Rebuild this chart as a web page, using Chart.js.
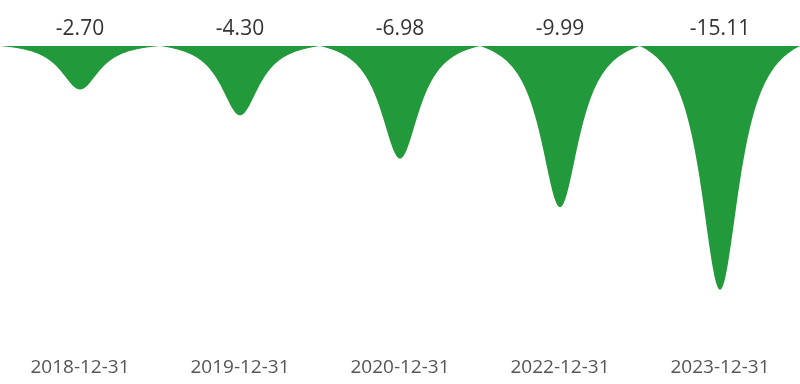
<!DOCTYPE html>
<html>
<head>
<meta charset="utf-8">
<script src="https://cdn.jsdelivr.net/npm/chart.js@4/dist/chart.umd.min.js"></script>
<style>
  html, body { margin:0; padding:0; background:#fff; }
  #wrap { width:800px; height:384px; position:relative; }
</style>
</head>
<body>
<div id="wrap"><canvas id="spikes"></canvas></div>
<script>
// categories + values
const dates = ["2018-12-31", "2019-12-31", "2020-12-31", "2022-12-31", "2023-12-31"];
const values = [-2.70, -4.30, -6.98, -9.99, -15.11];

const green = "#229a3b";
const font = "'Open Sans', 'DejaVu Sans', sans-serif";

// depth of the spike at a relative half-width u (0 centre .. 1 edge)
function spikeDepth(u) {
  const g = 0.3;
  const l = 1 / (1 + (u / g) * (u / g));
  const l1 = 1 / (1 + 1 / (g * g));
  return (l - l1) / (1 - l1);
}

const spikePlugin = {
  id: 'spikes',
  afterDatasetsDraw(chart) {
    const ctx = chart.ctx;
    const meta = chart.getDatasetMeta(0);
    ctx.save();
    ctx.fillStyle = green;
    meta.data.forEach(bar => {
      const half = bar.width / 2;
      ctx.beginPath();
      ctx.moveTo(bar.x - half, bar.base);
      for (let i = 0; i <= 200; i++) {
        const t = -1 + i / 100;
        const d = spikeDepth(Math.abs(t));
        ctx.lineTo(bar.x + t * half, bar.base + (bar.y - bar.base) * d);
      }
      ctx.closePath();
      ctx.fill();
    });
    // value labels above the baseline
    ctx.fillStyle = "#333";
    ctx.font = "21px " + font;
    ctx.textAlign = "center";
    ctx.textBaseline = "middle";
    meta.data.forEach((bar, i) => {
      ctx.fillText(values[i].toFixed(2), bar.x, chart.chartArea.top - 17);
    });
    ctx.restore();
  }
};

new Chart(document.getElementById('spikes'), {
  type: 'bar',
  data: {
    labels: dates,
    datasets: [{
      data: values,
      backgroundColor: 'rgba(0,0,0,0)',
      borderWidth: 0,
      barPercentage: 1,
      categoryPercentage: 1
    }]
  },
  options: {
    responsive: true,
    maintainAspectRatio: false,
    animation: false,
    layout: { padding: { top: 46, bottom: 0, left: 0, right: 0 } },
    plugins: { legend: { display: false }, tooltip: { enabled: false } },
    scales: {
      x: {
        grid: { display: false, drawTicks: false },
        border: { display: false },
        ticks: { color: "#555", font: { family: font, size: 19 }, padding: 10, maxRotation: 0 },
        afterFit(scale) { scale.height = 38; }
      },
      y: { display: false, min: -18.6, max: 0 }
    }
  },
  plugins: [spikePlugin]
});
</script>
</body>
</html>
